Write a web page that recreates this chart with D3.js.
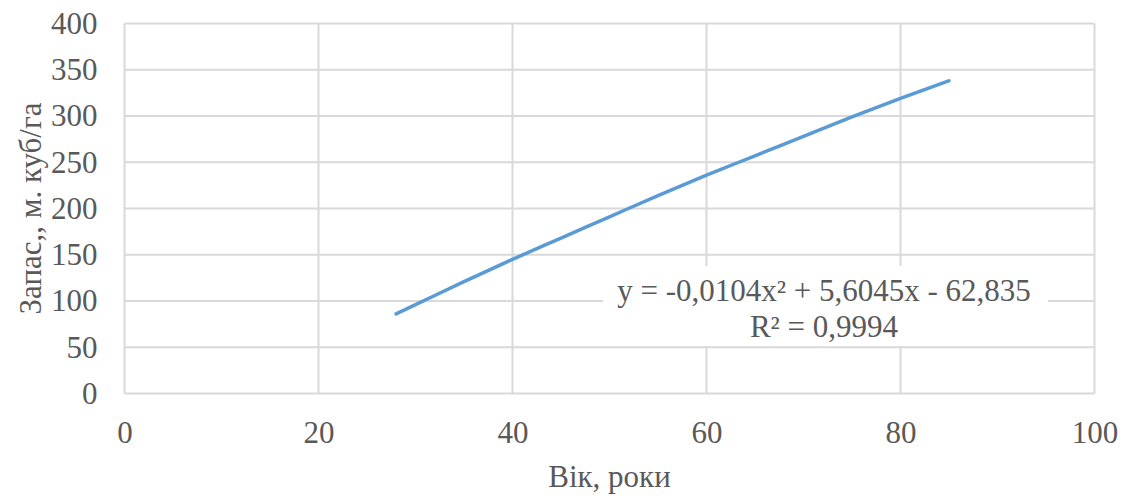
<!DOCTYPE html>
<html>
<head>
<meta charset="utf-8">
<script src="https://cdn.jsdelivr.net/npm/d3@7"></script>
<style>
  body { margin: 0; background: #fff; }
  text { font-family: "Liberation Serif", "Times New Roman", serif; fill: #595959; }
</style>
</head>
<body>
<div id="chart"></div>
<script>
// values
const ages = [28, 30, 35, 40, 45, 50, 55, 60, 65, 70, 75, 80, 85];
const stock = [86, 96, 121, 145, 168, 191, 214, 236, 257, 278, 299, 319, 338];
const xTicks = [0, 20, 40, 60, 80, 100];
const yTicks = [0, 50, 100, 150, 200, 250, 300, 350, 400];
const eqLines = ["y = -0,0104x² + 5,6045x - 62,835", "R² = 0,9994"];

const width = 1128, height = 496;
const margin = {top: 23.5, right: 33.5, bottom: 102.5, left: 124.5};
const fs = 31;

const svg = d3.select("#chart").append("svg")
    .attr("width", width)
    .attr("height", height);

const x = d3.scaleLinear().domain([0, 100]).range([margin.left, width - margin.right]);
const y = d3.scaleLinear().domain([0, 400]).range([height - margin.bottom, margin.top]);

// gridlines
svg.append("g")
  .selectAll("line")
  .data(yTicks)
  .join("line")
    .attr("x1", x(0)).attr("x2", x(100))
    .attr("y1", d => y(d)).attr("y2", d => y(d))
    .attr("stroke", "#d9d9d9").attr("stroke-width", 2);

svg.append("g")
  .selectAll("line")
  .data(xTicks)
  .join("line")
    .attr("x1", d => x(d)).attr("x2", d => x(d))
    .attr("y1", y(0)).attr("y2", y(400))
    .attr("stroke", "#d9d9d9").attr("stroke-width", 2);

// axes (labels only, Excel style)
const xAxis = svg.append("g")
  .attr("transform", `translate(0,${y(0)})`)
  .call(d3.axisBottom(x).tickValues(xTicks).tickSize(0).tickPadding(27));
xAxis.select(".domain").remove();
xAxis.selectAll("text").attr("font-size", fs).attr("fill", "#595959")
  .attr("font-family", "Liberation Serif");

const yAxis = svg.append("g")
  .attr("transform", `translate(${x(0)},0)`)
  .call(d3.axisLeft(y).tickValues(yTicks).tickSize(0).tickPadding(27));
yAxis.select(".domain").remove();
yAxis.selectAll("text").attr("font-size", fs).attr("fill", "#595959")
  .attr("font-family", "Liberation Serif");

// the curve
const line = d3.line()
  .x((d, i) => x(ages[i]))
  .y(d => y(d))
  .curve(d3.curveMonotoneX);

svg.append("path")
  .datum(stock)
  .attr("d", line)
  .attr("fill", "none")
  .attr("stroke", "#5b9bd5")
  .attr("stroke-width", 3.5)
  .attr("stroke-linecap", "round");

// trendline label box
const eq = svg.append("g");
eq.append("rect")
  .attr("x", 603).attr("y", 266)
  .attr("width", 445).attr("height", 80)
  .attr("fill", "#fff");
eq.selectAll("text")
  .data(eqLines)
  .join("text")
    .attr("x", 824)
    .attr("y", (d, i) => 301 + i * 36)
    .attr("text-anchor", "middle")
    .attr("font-size", fs)
    .text(d => d);

// axis titles
svg.append("text")
  .attr("x", (x(0) + x(100)) / 2)
  .attr("y", 487)
  .attr("text-anchor", "middle")
  .attr("font-size", fs)
  .text("Вік, роки");

svg.append("text")
  .attr("transform", `translate(41,${(y(0) + y(400)) / 2}) rotate(-90)`)
  .attr("text-anchor", "middle")
  .attr("font-size", fs)
  .text("Запас,, м. куб/га");
</script>
</body>
</html>
